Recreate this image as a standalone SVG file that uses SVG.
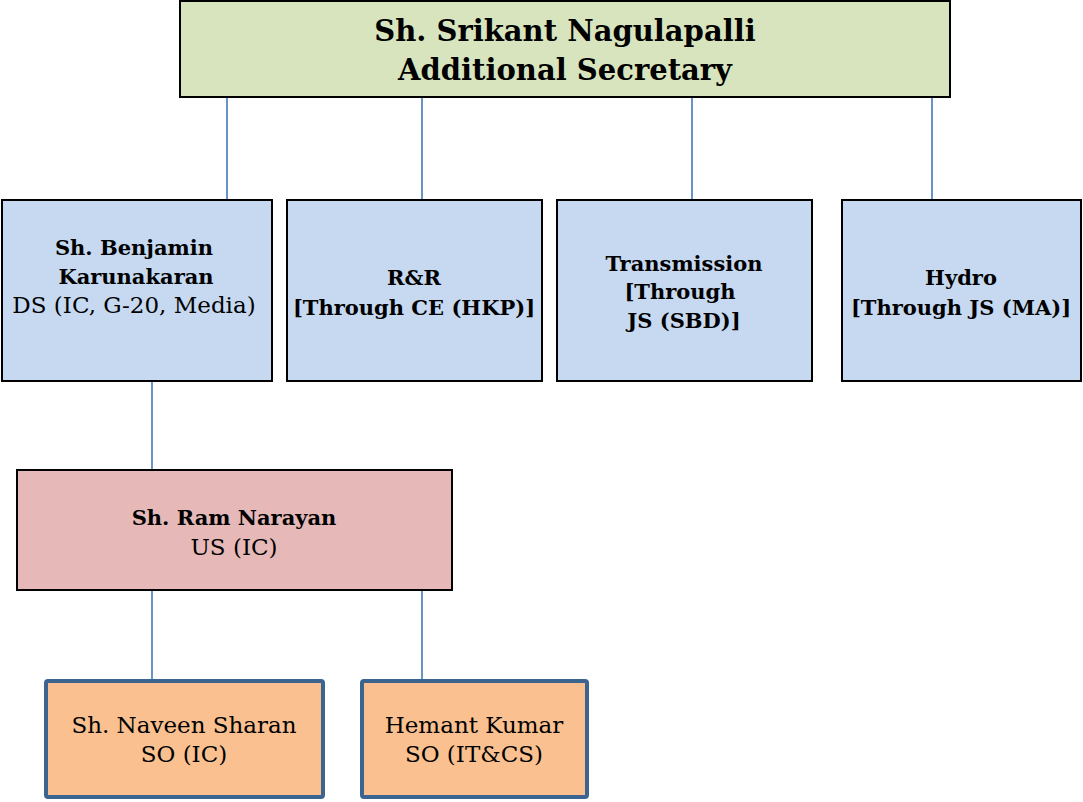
<svg xmlns="http://www.w3.org/2000/svg" width="1083" height="802" viewBox="0 0 1083 802">
<style>
text{font-family:"DejaVu Serif","Liberation Serif",serif;fill:#000;text-anchor:middle}
.b{font-weight:bold;font-size:21px}
.r{font-size:23px}
.t{font-weight:bold;font-size:29px}
.g{fill:#d7e4bd;stroke:#000;stroke-width:2}
.bl{fill:#c6d9f1;stroke:#000;stroke-width:2}
.pk{fill:#e6b9b8;stroke:#000;stroke-width:2}
.or{fill:#fac090;stroke:#3c6491;stroke-width:4}
.c{stroke:#4f81bd;stroke-width:1.7;fill:none}
</style>
<rect width="1083" height="802" fill="#fff"/>
<g id="connectors">
<line class="c" x1="227" y1="97" x2="227" y2="200"/>
<line class="c" x1="422" y1="97" x2="422" y2="200"/>
<line class="c" x1="692" y1="97" x2="692" y2="200"/>
<line class="c" x1="932" y1="97" x2="932" y2="200"/>
<line class="c" x1="152" y1="381" x2="152" y2="470"/>
<line class="c" x1="152" y1="590" x2="152" y2="680"/>
<line class="c" x1="422" y1="590" x2="422" y2="680"/>
</g>
<g id="n-as">
<rect class="g" x="180" y="1" width="770" height="96"/>
<text class="t" x="565" y="41">Sh. Srikant Nagulapalli</text>
<text class="t" x="565" y="80">Additional Secretary</text>
</g>
<g id="n-ds">
<rect class="bl" x="2" y="200" width="270" height="181"/>
<text class="b" x="134" y="255">Sh. Benjamin</text>
<text class="b" x="136" y="284">Karunakaran</text>
<text class="r" x="134" y="313">DS (IC, G-20, Media)</text>
</g>
<g id="n-rr">
<rect class="bl" x="287" y="200" width="255" height="181"/>
<text class="b" x="414" y="285">R&amp;R</text>
<text class="b" x="414" y="315">[Through CE (HKP)]</text>
</g>
<g id="n-tr">
<rect class="bl" x="557" y="200" width="255" height="181"/>
<text class="b" x="684" y="271">Transmission</text>
<text class="b" x="680" y="299">[Through</text>
<text class="b" x="684" y="328">JS (SBD)]</text>
</g>
<g id="n-hy">
<rect class="bl" x="842" y="200" width="239" height="181"/>
<text class="b" x="961" y="285">Hydro</text>
<text class="b" x="961" y="315">[Through JS (MA)]</text>
</g>
<g id="n-us">
<rect class="pk" x="17" y="470" width="435" height="120"/>
<text class="b" x="234" y="525">Sh. Ram Narayan</text>
<text class="r" x="234" y="555">US (IC)</text>
</g>
<g id="n-so1">
<rect class="or" x="46" y="681" width="277" height="116" rx="2"/>
<text class="r" x="184" y="733">Sh. Naveen Sharan</text>
<text class="r" x="184" y="762">SO (IC)</text>
</g>
<g id="n-so2">
<rect class="or" x="362" y="681" width="225" height="116" rx="2"/>
<text class="r" x="474" y="733">Hemant Kumar</text>
<text class="r" x="474" y="762">SO (IT&amp;CS)</text>
</g>
</svg>
